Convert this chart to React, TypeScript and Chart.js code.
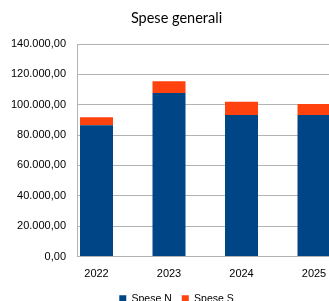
import React, { useEffect, useRef } from "react";
import { Chart, registerables } from "chart.js";

Chart.register(...registerables);

const categories = ["2022", "2023", "2024", "2025"];
const speseN = [86400, 107700, 93200, 93200];
const speseS = [5400, 7700, 8700, 7200];
const seriesNames = ["Spese N", "Spese S"];
const yTicks = [0, 20000, 40000, 60000, 80000, 100000, 120000, 140000];
const chartTitle = "Spese generali";

const fmt = (v: number) => {
  const n = Math.round(v);
  const s = String(n).replace(/\B(?=(\d{3})+(?!\d))/g, ".");
  return s + ",00";
};

export default function App() {
  const ref = useRef<HTMLCanvasElement | null>(null);
  useEffect(() => {
    if (!ref.current) return;
    const W = 345;
    const left = 77;
    const firstCenter = 96.5;
    const step = 72.5;
    const xmin = -(firstCenter - left) / step;
    const xmax = (W - firstCenter) / step;
    const chart = new Chart(ref.current, {
      type: "bar",
      data: {
        datasets: [
          {
            label: seriesNames[0],
            data: speseN.map((v, i) => ({ x: i, y: v })),
            backgroundColor: "#004586",
            borderWidth: 0,
          },
          {
            label: seriesNames[1],
            data: speseS.map((v, i) => ({ x: i, y: v })),
            backgroundColor: "#ff420e",
            borderWidth: 0,
          },
        ],
      },
      options: {
        responsive: false,
        animation: false,
        devicePixelRatio: 1,
        layout: { padding: { left: 8, right: 0, top: 0, bottom: 0 } },
        datasets: {
          bar: { barPercentage: 0.455, categoryPercentage: 1 },
        },
        plugins: {
          tooltip: { enabled: false },
          title: {
            display: true,
            text: chartTitle,
            color: "#000",
            font: { family: "Lato", size: 14.5, weight: "normal" },
            padding: { top: 10, bottom: 16.6 },
          },
          legend: {
            position: "bottom",
            labels: {
              boxWidth: 7,
              boxHeight: 7,
              padding: 10,
              color: "#000",
              font: { family: "Liberation Sans", size: 10.5 },
            },
          },
        },
        scales: {
          x: {
            type: "linear",
            stacked: true,
            offset: false,
            min: xmin,
            max: xmax,
            grid: { display: false, drawTicks: false, offset: false },
            border: { display: true, color: "#b3b3b3", width: 1 },
            afterBuildTicks: (scale: any) => {
              scale.ticks = categories.map((_, i) => ({ value: i }));
            },
            afterFit: (scale: any) => {
              scale.height = 27;
            },
            ticks: {
              autoSkip: false,
              maxRotation: 0,
              padding: 11,
              color: "#000",
              font: { family: "Liberation Sans", size: 11 },
              callback: (v: any) => categories[Math.round(Number(v))] ?? "",
            },
          },
          y: {
            stacked: true,
            min: 0,
            max: 140000,
            afterBuildTicks: (scale: any) => {
              scale.ticks = yTicks.map((v) => ({ value: v }));
            },
            afterFit: (scale: any) => {
              scale.width = 69;
            },
            grid: { color: "#b3b3b3", drawTicks: false, lineWidth: 1 },
            border: { display: true, color: "#b3b3b3", width: 1 },
            ticks: {
              padding: 11,
              color: "#000",
              font: { family: "Liberation Sans", size: 11 },
              callback: (v: any) => fmt(Number(v)),
            },
          },
        },
      },
    });
    return () => chart.destroy();
  }, []);
  return (
    <div
      style={{
        position: "fixed",
        left: 0,
        top: 0,
        width: 329,
        height: 301,
        overflow: "hidden",
        background: "#fff",
      }}
    >
      <canvas ref={ref} width={345} height={314} style={{ width: 345, height: 314, display: "block" }} />
    </div>
  );
}
